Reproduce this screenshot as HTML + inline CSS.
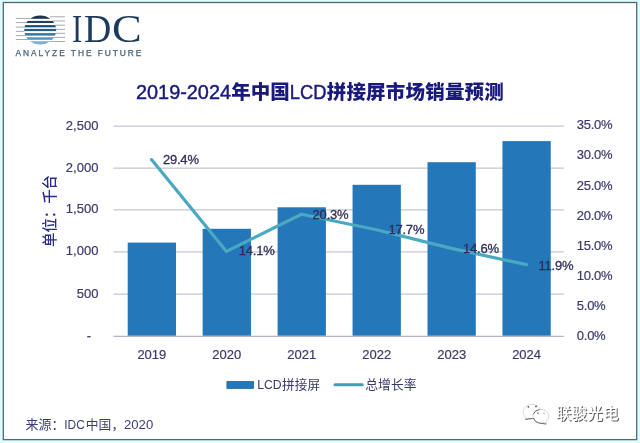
<!DOCTYPE html>
<html>
<head>
<meta charset="utf-8">
<style>
html,body{margin:0;padding:0;}
body{width:640px;height:443px;overflow:hidden;background:#dffcfc;}
svg{display:block;will-change:transform;}
</style>
</head>
<body>
<svg width="640" height="443" viewBox="0 0 640 443">
  <rect x="0" y="0" width="640" height="443" fill="#dffcfc"/>
  <rect x="3.3" y="2.5" width="633.4" height="437.1" fill="#ffffff" stroke="#506a74" stroke-width="1.3"/>
  <g id="logo">
    <defs>
      <clipPath id="circ"><ellipse cx="40.2" cy="30" rx="16" ry="14.6"/></clipPath>
    </defs>
    <g stroke="#a3abb3" stroke-width="1">
      <line x1="15.8" y1="18.4" x2="30" y2="18.4"/>
      <line x1="15.8" y1="22.6" x2="30" y2="22.6"/>
      <line x1="15.8" y1="27.1" x2="30" y2="27.1"/>
      <line x1="15.8" y1="31.4" x2="30" y2="31.4"/>
      <line x1="15.8" y1="35.6" x2="30" y2="35.6"/>
      <line x1="15.8" y1="39.5" x2="30" y2="39.5"/>
      <line x1="50" y1="16.8" x2="65" y2="16.8"/>
      <line x1="50" y1="21" x2="65" y2="21"/>
      <line x1="50" y1="25.2" x2="65" y2="25.2"/>
      <line x1="50" y1="29.4" x2="65" y2="29.4"/>
      <line x1="50" y1="33.3" x2="65" y2="33.3"/>
      <line x1="50" y1="37.4" x2="65" y2="37.4"/>
      <line x1="50" y1="41.5" x2="65" y2="41.5"/>
    </g>
    <ellipse cx="40.2" cy="30" rx="16" ry="14.6" fill="#ffffff"/>
    <g clip-path="url(#circ)">
      <rect x="20" y="14" width="42" height="4.8" fill="#1c3652"/>
      <rect x="20" y="20.9" width="42" height="2.1" fill="#1d405f"/>
      <rect x="20" y="25.1" width="42" height="2.2" fill="#1e4b70"/>
      <rect x="20" y="28.9" width="42" height="2.2" fill="#265c86"/>
      <rect x="20" y="33.1" width="42" height="2.5" fill="#3874a2"/>
      <rect x="20" y="37.3" width="42" height="2.5" fill="#5791c0"/>
      <rect x="20" y="41.2" width="42" height="4" fill="#7fb0d8"/>
    </g>
    <g font-family="'Liberation Serif',serif" font-size="39.5" fill="#1d3a5c">
      <text x="71.9" y="41.6" textLength="10.2" lengthAdjust="spacingAndGlyphs">I</text>
      <text x="84.0" y="41.6" textLength="27.3" lengthAdjust="spacingAndGlyphs">D</text>
      <text x="112.0" y="41.6" textLength="29.7" lengthAdjust="spacingAndGlyphs">C</text>
    </g>
    <text x="15.5" y="55.5" font-family="'Liberation Sans',sans-serif" font-size="8.4" fill="#4a6072" stroke="#4a6072" stroke-width="0.25" letter-spacing="1.95">ANALYZE THE FUTURE</text>
  </g>

  <g fill="#1a1a7c" stroke="#1a1a7c" stroke-width="0">
    <text x="136" y="99" stroke-width="0.45" font-family="'Liberation Sans',sans-serif" font-size="20" textLength="95" lengthAdjust="spacingAndGlyphs">2019-2024</text>
    <text x="231.3" y="99" font-weight="900" font-family="'Liberation Sans','Noto Sans CJK SC',sans-serif" font-size="19.5" letter-spacing="0">年中国</text>
    <text x="289.8" y="99" stroke-width="0.45" font-family="'Liberation Sans',sans-serif" font-size="20" textLength="36.6" lengthAdjust="spacingAndGlyphs">LCD</text>
    <text x="326.7" y="99" font-weight="900" font-family="'Liberation Sans','Noto Sans CJK SC',sans-serif" font-size="19.5" letter-spacing="0.2">拼接屏市场销量预测</text>
  </g>
  <text transform="translate(54.5,247) rotate(-90)" font-family="'Liberation Sans','Noto Sans CJK SC',sans-serif" font-size="14.5" font-weight="500" fill="#2b2b86" textLength="72" lengthAdjust="spacingAndGlyphs">单位：千台</text>
  <g stroke="#c6c7d1" stroke-width="1.3">
    <line x1="113.5" y1="126.1" x2="563.8" y2="126.1"/>
    <line x1="113.5" y1="168.1" x2="563.8" y2="168.1"/>
    <line x1="113.5" y1="209.9" x2="563.8" y2="209.9"/>
    <line x1="113.5" y1="251.8" x2="563.8" y2="251.8"/>
    <line x1="113.5" y1="294.2" x2="563.8" y2="294.2"/>
  </g>
  <g fill="#2477b9">
    <rect x="127.70" y="242.6" width="48.3" height="93.20"/>
    <rect x="202.65" y="228.8" width="48.3" height="107.00"/>
    <rect x="277.60" y="207.3" width="48.3" height="128.50"/>
    <rect x="352.55" y="184.8" width="48.3" height="151.00"/>
    <rect x="427.50" y="162.2" width="48.3" height="173.60"/>
    <rect x="502.45" y="141.1" width="48.3" height="194.70"/>
  </g>
  <line x1="113.5" y1="336.3" x2="563.8" y2="336.3" stroke="#b3b5bf" stroke-width="1.2"/>
  <polyline points="151.5,159.6 226.5,251.4 301.5,214.2 376.5,229.8 451.5,248.4 526.5,264.6" fill="none" stroke="#49a9c3" stroke-width="3.2" stroke-linejoin="round" stroke-linecap="round"/>
  <g font-family="'Liberation Sans',sans-serif" font-size="13" fill="#3a3a6c" stroke="#3a3a6c" stroke-width="0.2" text-anchor="end">
    <text x="98.4" y="129.6">2,500</text>
    <text x="98.4" y="171.6">2,000</text>
    <text x="98.4" y="213.4">1,500</text>
    <text x="98.4" y="255.3">1,000</text>
    <text x="98.4" y="297.7">500</text>
    <text x="91.2" y="340">-</text>
  </g>
  <g font-family="'Liberation Sans',sans-serif" font-size="13" fill="#3a3a6c" stroke="#3a3a6c" stroke-width="0.2" letter-spacing="-0.25">
    <text x="576.8" y="129.30">35.0%</text>
    <text x="576.8" y="159.47">30.0%</text>
    <text x="576.8" y="189.64">25.0%</text>
    <text x="576.8" y="219.81">20.0%</text>
    <text x="576.8" y="249.98">15.0%</text>
    <text x="576.8" y="280.15">10.0%</text>
    <text x="576.8" y="310.32">5.0%</text>
    <text x="576.8" y="340.49">0.0%</text>
  </g>
  <g font-family="'Liberation Sans',sans-serif" font-size="13" fill="#3a3a6c" stroke="#3a3a6c" stroke-width="0.2" text-anchor="middle">
    <text x="151.85" y="359.2">2019</text>
    <text x="226.80" y="359.2">2020</text>
    <text x="301.75" y="359.2">2021</text>
    <text x="376.70" y="359.2">2022</text>
    <text x="451.65" y="359.2">2023</text>
    <text x="526.60" y="359.2">2024</text>
  </g>
  <g font-family="'Liberation Sans',sans-serif" font-size="13" fill="#2e2e58" stroke="#2e2e58" stroke-width="0.3" letter-spacing="-0.2">
    <text x="162.9" y="164.2">29.4%</text>
    <text x="238.8" y="255.3">14.1%</text>
    <text x="312.6" y="219">20.3%</text>
    <text x="388.4" y="234.4">17.7%</text>
    <text x="463" y="252.5">14.6%</text>
    <text x="538.4" y="269.6">11.9%</text>
  </g>
  <rect x="226.9" y="381.4" width="26.7" height="7.1" fill="#2477b9" stroke="#22669e" stroke-width="0.8"/>
  <text x="257.2" y="389.4" font-family="'Liberation Sans',sans-serif" font-size="13.6" fill="#3a3a6c" textLength="24.5" lengthAdjust="spacingAndGlyphs">LCD</text>
  <text x="282" y="389.4" font-family="'Liberation Sans','Noto Sans CJK SC',sans-serif" font-size="12.6" fill="#3a3a6c" letter-spacing="0.1">拼接屏</text>
  <line x1="335" y1="384.8" x2="362.2" y2="384.8" stroke="#449cb2" stroke-width="3" stroke-linecap="round"/>
  <text x="365.3" y="389.3" font-family="'Liberation Sans','Noto Sans CJK SC',sans-serif" font-size="12.8" fill="#3a3a6c">总增长率</text>
  <g fill="#3c3c7c">
    <text x="25.5" y="429.2" font-family="'Liberation Sans','Noto Sans CJK SC',sans-serif" font-size="13">来源：</text>
    <text x="64.2" y="429.1" font-family="'Liberation Sans',sans-serif" font-size="13.4" textLength="20.6" lengthAdjust="spacingAndGlyphs">IDC</text>
    <text x="85.8" y="429.2" font-family="'Liberation Sans','Noto Sans CJK SC',sans-serif" font-size="12.8">中国，</text>
    <text x="124" y="429.1" font-family="'Liberation Sans',sans-serif" font-size="13.4" textLength="29.2" lengthAdjust="spacingAndGlyphs">2020</text>
  </g>
  <!-- watermark -->
  <g>
    <g fill="#ffffff" stroke="#cdcdcd" stroke-width="0.8">
      <path d="M531.8,404.4 C526.8,404.4 523.2,407.8 523.2,412 C523.2,414.4 524.3,416.4 526.2,417.7 L525.6,419.4 L528.8,418.6 C529.8,418.9 530.8,419.1 531.8,419.1 C536.8,419.1 540.8,415.9 540.8,411.8 C540.8,407.7 536.8,404.4 531.8,404.4 Z"/>
      <path d="M541,409.5 C536.6,409.5 533.1,412.5 533.1,416.2 C533.1,419.9 536.6,423 541,423 C542.2,423 543.3,422.8 544.3,422.4 L546.6,424 L546.1,421.4 C547.8,420.1 548.8,418.3 548.8,416.2 C548.8,412.5 545.4,409.5 541,409.5 Z"/>
    </g>
    <g fill="none" stroke="#6a6a6a" stroke-width="1" stroke-linecap="round">
      <path d="M533.3,414 Q534.6,410.2 539.2,409.6"/>
      <path d="M533.5,418.4 Q535,422.4 539.2,423.1 L545.8,424"/>
      <path d="M525.8,419.3 L532.2,418.4"/>
    </g>
    <g fill="#5a5a5a">
      <circle cx="528.4" cy="406.8" r="0.9"/>
      <circle cx="536" cy="406.4" r="0.9"/>
      <circle cx="538" cy="413.3" r="0.8"/>
    </g>
    <circle cx="544" cy="413.3" r="0.8" fill="#b0b0b0"/>
    <text x="557.1" y="420.3" font-family="'Liberation Sans','Noto Sans CJK SC',sans-serif" font-size="15.4" fill="#5c5c5c" font-weight="500" letter-spacing="0.3">联骏光电</text>
    <text x="556.1" y="419.3" font-family="'Liberation Sans','Noto Sans CJK SC',sans-serif" font-size="15.4" fill="#ffffff" font-weight="500" letter-spacing="0.3">联骏光电</text>
  </g>
</svg>
</body>
</html>
